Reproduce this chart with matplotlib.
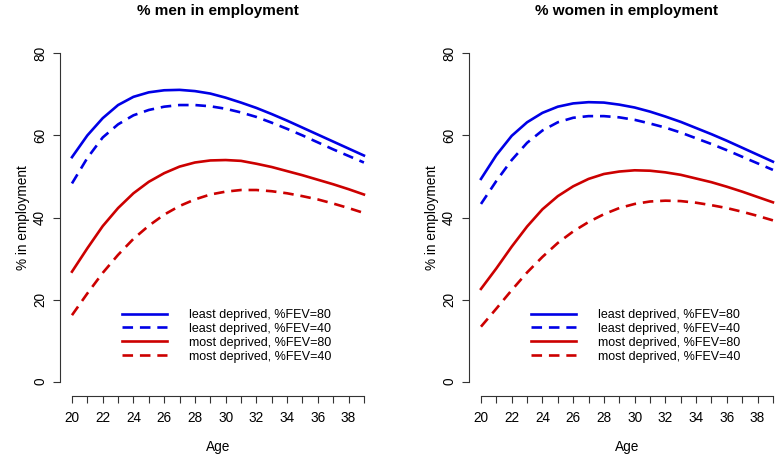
import matplotlib
matplotlib.use("Agg")
import matplotlib.pyplot as plt

plt.rcParams['font.family'] = ['Liberation Sans', 'DejaVu Sans']

ages = list(range(20, 40))
age_ticks = list(range(20, 40))
age_labels = [str(a) if a % 2 == 0 else '' for a in age_ticks]
pct_ticks = [0, 20, 40, 60, 80]

# men
men_least_80 = [54.7, 60.0, 64.2, 67.4, 69.4, 70.5, 71.0, 71.1, 70.8, 70.2,
                69.2, 68.0, 66.7, 65.2, 63.6, 61.9, 60.2, 58.5, 56.8, 55.1]
men_least_40 = [48.3, 54.5, 59.5, 62.7, 64.9, 66.2, 67.0, 67.4, 67.4, 67.1,
                66.5, 65.6, 64.5, 63.1, 61.6, 60.0, 58.3, 56.6, 55.0, 53.4]
men_most_80 = [26.8, 32.5, 37.9, 42.3, 45.9, 48.7, 50.8, 52.4, 53.4, 53.9,
               54.0, 53.8, 53.1, 52.3, 51.3, 50.3, 49.2, 48.1, 46.9, 45.6]
men_most_40 = [16.2, 21.5, 26.5, 30.9, 34.8, 38.0, 40.7, 42.8, 44.4, 45.6,
               46.3, 46.7, 46.7, 46.4, 45.9, 45.2, 44.4, 43.4, 42.3, 41.1]

# women
women_least_80 = [49.4, 55.2, 59.9, 63.2, 65.5, 67.0, 67.8, 68.1, 68.0, 67.5,
                  66.8, 65.8, 64.6, 63.3, 61.8, 60.3, 58.7, 57.0, 55.3, 53.6]
women_least_40 = [43.3, 48.9, 54.0, 58.2, 61.2, 63.2, 64.3, 64.7, 64.7, 64.4,
                  63.8, 62.9, 61.9, 60.7, 59.3, 57.9, 56.4, 54.8, 53.2, 51.6]
women_most_80 = [22.6, 27.6, 32.9, 37.8, 42.0, 45.2, 47.6, 49.4, 50.6, 51.2,
                 51.5, 51.4, 51.0, 50.4, 49.5, 48.6, 47.5, 46.3, 45.0, 43.7]
women_most_40 = [13.4, 17.8, 22.3, 26.6, 30.4, 33.8, 36.6, 38.9, 40.8, 42.3,
                 43.3, 43.9, 44.1, 44.0, 43.6, 43.0, 42.3, 41.4, 40.4, 39.3]

labels = ['least deprived, %FEV=80', 'least deprived, %FEV=40',
          'most deprived, %FEV=80', 'most deprived, %FEV=40']
blue = '#0000E6'
red = '#CC0000'

W, H = 777, 458
fig = plt.figure(figsize=(W / 100, H / 100), dpi=100)

def panel(left_px, title, series):
    ax = fig.add_axes([left_px / W, (H - 394.8) / H, 315.3 / W, 354.6 / H])
    styles = [(blue, '-'), (blue, '--'), (red, '-'), (red, '--')]
    for vals, (c, ls), lab in zip(series, styles, labels):
        line, = ax.plot(ages, vals, color=c, linewidth=1.9, label=lab)
        if ls == '--':
            line.set_dashes((4, 2.6))
    ax.set_xlim(19.24, 39.76)
    ax.set_ylim(-3.2, 83.2)
    ax.spines['top'].set_visible(False)
    ax.spines['right'].set_visible(False)
    ax.spines['left'].set_bounds(0, 80)
    ax.spines['bottom'].set_bounds(20, 39)
    ax.spines['bottom'].set_position(('outward', 1))
    for s in ('left', 'bottom'):
        ax.spines[s].set_linewidth(0.8)
        ax.spines[s].set_color('#333333')
    ax.set_xticks(age_ticks)
    ax.set_xticklabels(age_labels)
    ax.set_yticks(pct_ticks)
    ax.set_yticklabels([str(v) for v in pct_ticks], rotation=90, va='center')
    ax.tick_params(length=5, width=0.8, color='#333333', labelsize=9.8)
    ax.tick_params(axis='x', pad=6)
    ax.tick_params(axis='y', pad=4.5)
    ax.set_xlabel('Age', fontsize=9.8, labelpad=10.5)
    ax.set_ylabel('% in employment', fontsize=9.8, labelpad=2)
    ax.set_title(title, fontsize=11, fontweight='bold', pad=18)
    ax.legend(loc='upper left', bbox_to_anchor=(0.197, 0.242), frameon=False,
              fontsize=9, handlelength=3.6, handletextpad=1.7,
              labelspacing=0.15, borderpad=0, borderaxespad=0)
    return ax

panel(60.3, '% men in employment', [men_least_80, men_least_40, men_most_80, men_most_40])
panel(469.3, '% women in employment', [women_least_80, women_least_40, women_most_80, women_most_40])

fig.savefig('out.png', dpi=100)
